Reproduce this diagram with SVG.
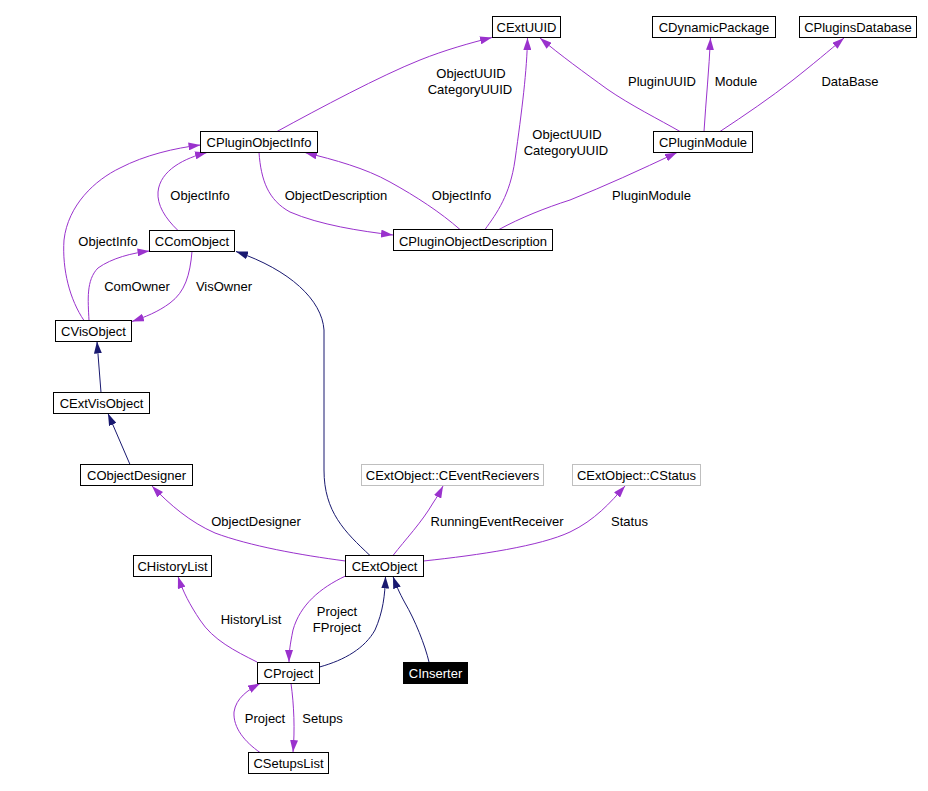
<svg xmlns="http://www.w3.org/2000/svg" width="928" height="791" viewBox="0 0 928 791">
<style>
text{font-family:"Liberation Sans",Arial,Helvetica,sans-serif;font-size:13px;fill:#000}
.n rect{fill:#fff;stroke:#000;stroke-width:1}
.n text{text-anchor:middle}
.g rect{stroke:#bfbfbf}
.u{fill:none;stroke:#9a32cd;stroke-width:1;marker-end:url(#au)}
.i{fill:none;stroke:#191970;stroke-width:1;marker-end:url(#ai)}
.l{text-anchor:middle}
</style>
<defs>
<marker id="au" markerUnits="userSpaceOnUse" markerWidth="12" markerHeight="8" refX="12" refY="4" orient="auto"><path d="M0,0 L12,4 L0,8 z" fill="#9a32cd"/></marker>
<marker id="ai" markerUnits="userSpaceOnUse" markerWidth="12" markerHeight="8" refX="12" refY="4" orient="auto"><path d="M0,0 L12,4 L0,8 z" fill="#191970"/></marker>
</defs>
<rect width="928" height="791" fill="#fff"/>
<g id="edges">
<path class="u" d="M277,131.5 C320,108 380,76 420,60 C445,50 470,43 492,37.5"/>
<path class="u" d="M485,229.5 C497,213 510,195 515,160 C522,110 527,70 527.5,38"/>
<path class="u" d="M680,131.5 C660,120 630,105 607,89 C585,73 560,55 540,38"/>
<path class="u" d="M704,131.5 C706,100 709,70 710.5,38"/>
<path class="u" d="M720,131.5 C745,115 770,98 793,80 C812,65 830,50 844,38"/>
<path class="u" d="M499,229.5 C520,218 545,208 570,200 C605,186 640,170 677,152.5"/>
<path class="u" d="M460,229.5 C440,212 417,197 390,182 C365,168 335,160 305,152.5"/>
<path class="u" d="M259,152.5 C261,180 268,200 290,212 C320,225 360,231 393,235"/>
<path class="u" d="M178,230.5 C165,218 157,205 158,192 C160,170 185,158 207,152.5"/>
<path class="u" d="M84,320.5 C70,300 62,270 64,240 C68,205 95,180 120,168 C145,155 175,148 200.5,145"/>
<path class="u" d="M89,320.5 C88,300 86,280 98,268 C112,258 132,253 149.5,251"/>
<path class="u" d="M192,251.5 C190,275 185,292 170,303 C158,312 145,317 132,321.5"/>
<path class="i" d="M101,392.5 L97,341.5"/>
<path class="i" d="M130,464.5 L108,413.5"/>
<path class="i" d="M370,555.5 C345,532 324,512 324,470 L324,330 C322,300 290,270 236,251.5"/>
<path class="u" d="M345.5,561 C300,555 250,546 215,533 C190,522 170,505 152,486"/>
<path class="u" d="M393,555.5 C405,540 422,522 433,503 C437,497 440,492 443,486"/>
<path class="u" d="M423.5,561 C480,555 540,546 570,532 C595,520 610,503 625,486"/>
<path class="u" d="M345.5,576 C320,588 300,605 293,630 C290,645 289,652 289,662"/>
<path class="i" d="M319.5,667 C345,660 365,648 375,630 C383,612 385,595 385.5,576.5"/>
<path class="i" d="M429,662 C425,645 415,620 405,603 C399,592 396,585 393,576.5"/>
<path class="u" d="M257,662 C235,651 213,640 200,620 C190,605 183,592 178,576.5"/>
<path class="u" d="M291,683.5 C294,705 295,730 293,752"/>
<path class="u" d="M260,752.5 C245,742 233,728 234,712 C236,698 248,690 260,683.5"/>
<text class="l" x="471" y="78">ObjectUUID</text>
<text class="l" x="470" y="94">CategoryUUID</text>
<text class="l" x="567" y="139">ObjectUUID</text>
<text class="l" x="566" y="155">CategoryUUID</text>
<text class="l" x="662" y="86">PluginUUID</text>
<text class="l" x="736" y="86">Module</text>
<text class="l" x="850" y="86">DataBase</text>
<text class="l" x="651.5" y="200">PluginModule</text>
<text class="l" x="461.5" y="200">ObjectInfo</text>
<text class="l" x="336" y="200">ObjectDescription</text>
<text class="l" x="200" y="200">ObjectInfo</text>
<text class="l" x="108" y="246">ObjectInfo</text>
<text class="l" x="137" y="290.5">ComOwner</text>
<text class="l" x="224" y="290.5">VisOwner</text>
<text class="l" x="256" y="526">ObjectDesigner</text>
<text class="l" x="497" y="526">RunningEventReceiver</text>
<text class="l" x="629.5" y="526">Status</text>
<text class="l" x="337" y="616">Project</text>
<text class="l" x="337" y="632">FProject</text>
<text class="l" x="251" y="624">HistoryList</text>
<text class="l" x="265" y="722.5">Project</text>
<text class="l" x="322.5" y="722.5">Setups</text>
</g>
<g id="CExtUUID" class="n"><rect x="492.5" y="16.5" width="68" height="21"/><text x="526.5" y="32">CExtUUID</text></g>
<g id="CDynamicPackage" class="n"><rect x="652.5" y="16.5" width="123" height="21"/><text x="714" y="32">CDynamicPackage</text></g>
<g id="CPluginsDatabase" class="n"><rect x="799.5" y="16.5" width="117" height="21"/><text x="858" y="32">CPluginsDatabase</text></g>
<g id="CPluginObjectInfo" class="n"><rect x="200.5" y="131.5" width="117" height="21"/><text x="259" y="147">CPluginObjectInfo</text></g>
<g id="CPluginModule" class="n"><rect x="653.5" y="131.5" width="99" height="21"/><text x="703" y="147">CPluginModule</text></g>
<g id="CComObject" class="n"><rect x="149.5" y="230.5" width="85" height="21"/><text x="192" y="246">CComObject</text></g>
<g id="CPluginObjectDescription" class="n"><rect x="393.5" y="229.5" width="159" height="21"/><text x="473" y="245.5">CPluginObjectDescription</text></g>
<g id="CVisObject" class="n"><rect x="55.5" y="320.5" width="76" height="21"/><text x="93.5" y="336">CVisObject</text></g>
<g id="CExtVisObject" class="n"><rect x="53.5" y="392.5" width="96" height="21"/><text x="101.5" y="408">CExtVisObject</text></g>
<g id="CObjectDesigner" class="n"><rect x="80.5" y="464.5" width="112" height="21"/><text x="136.5" y="480">CObjectDesigner</text></g>
<g id="CEventRecievers" class="n g"><rect x="361.5" y="464.5" width="182" height="21"/><text x="452.5" y="480">CExtObject::CEventRecievers</text></g>
<g id="CStatus" class="n g"><rect x="572.5" y="464.5" width="128" height="21"/><text x="636.5" y="480">CExtObject::CStatus</text></g>
<g id="CHistoryList" class="n"><rect x="133.5" y="555.5" width="78" height="21"/><text x="172.5" y="571">CHistoryList</text></g>
<g id="CExtObject" class="n"><rect x="345.5" y="555.5" width="78" height="21"/><text x="384.5" y="571">CExtObject</text></g>
<g id="CProject" class="n"><rect x="257.5" y="662.5" width="62" height="21"/><text x="288.5" y="678">CProject</text></g>
<g id="CInserter"><rect x="403" y="662" width="65" height="22" fill="#000"/><text x="435.5" y="678" text-anchor="middle" style="fill:#fff">CInserter</text></g>
<g id="CSetupsList" class="n"><rect x="248.5" y="752.5" width="80" height="21"/><text x="288.5" y="768">CSetupsList</text></g>
</svg>
